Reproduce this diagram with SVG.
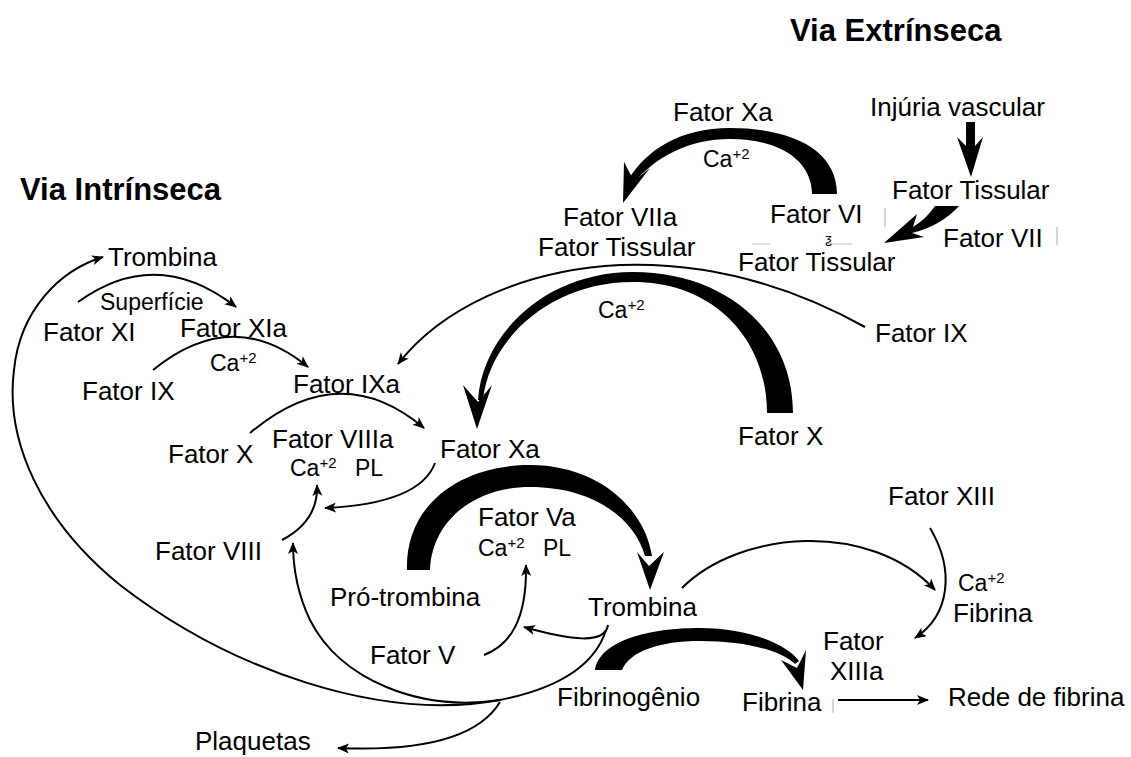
<svg xmlns="http://www.w3.org/2000/svg" width="1131" height="757" viewBox="0 0 1131 757">
<defs>
<style>
text{font-family:"Liberation Sans",Arial,sans-serif;fill:#000}
.l{font-size:26px}
.s{font-size:23px}
.p{font-size:15px}
.t{font-size:31px;font-weight:bold}
.ln{fill:none;stroke:#000;stroke-width:2}
.ar{marker-end:url(#ah)}
.th{fill:#000;stroke:none}
.gr{stroke:#bbb;stroke-width:1.2;fill:none}
</style>
<marker id="ah" markerUnits="userSpaceOnUse" markerWidth="14" markerHeight="12" refX="11" refY="5" orient="auto">
<path d="M0,0 L12,5 L0,10 L3,5 Z" fill="#000"/>
</marker>
</defs>
<rect width="1131" height="757" fill="#fff"/>

<g id="titles">
<text class="t" x="790" y="41">Via Extrínseca</text>
<text class="t" x="20" y="200">Via Intrínseca</text>
</g>

<g id="connectors">
<!-- extrinsic crescent Fator VI -> Fator VIIa -->
<path class="th" d="M837,194 C837,150 792,128 730,128 C680,128 646,150 628,180 L634,183 C656,156 690,139 730,139 C782,139 812,162 812,194 Z"/>
<path class="th" d="M623,203 L624,162 L634,181 L650,168 Z"/>
<!-- injuria -> fator tissular -->
<path class="th" d="M966,122 L975,122 L975,146 L983,137 L971,177 L957,137 L966,146 Z"/>
<!-- fator tissular -> fator tissular -->
<path class="th" d="M959,206 L935,206 C928,216 921,222 913,227 L917,214 L884,243 L924,237 L912,233 C932,228 947,219 959,206 Z"/>
<!-- Fator IX right -> Fator IXa -->
<path class="ln ar" d="M865,327 C780,280 700,262 620,265 C520,270 440,310 398,364"/>
<!-- big crescent Fator X -> Fator Xa -->
<path class="th" d="M793,413 C793,330 725,272 633,272 C545,272 482,335 478,400 L483,400 C489,340 550,282 633,282 C715,282 767,340 767,413 Z"/>
<path class="th" d="M477,429 L463,385 L478,402 L492,385 Z"/>
<!-- Superficie -->
<path class="ln ar" d="M78,302 Q157,245 236,307"/>
<!-- Ca left: Fator IX -> IXa -->
<path class="ln ar" d="M153,370 Q233,305 308,367"/>
<!-- Fator X -> Fator Xa -->
<path class="ln ar" d="M250,433 Q340,357 424,428"/>
<!-- Fator Xa -> VIIIa complex -->
<path class="ln ar" d="M435,463 C425,490 390,505 325,508"/>
<!-- Fator VIII -> VIIIa -->
<path class="ln ar" d="M282,540 C305,528 318,510 317,485"/>
<!-- crescent Pro-trombina -> Trombina -->
<path class="th" d="M407,570 C405,505 460,465 530,465 C600,465 645,510 652,556 L645,556 C635,520 595,487 530,487 C475,487 432,520 430,570 Z"/>
<path class="th" d="M650,590 L637,552 L649,566 L664,552 Z"/>
<!-- Fator V -> Va -->
<path class="ln ar" d="M484,655 C510,645 527,620 526,565"/>
<!-- Trombina -> Fator V -->
<path class="ln ar" d="M608,625 C605,645 570,640 524,627"/>
<!-- Trombina -> XIIIa -->
<path class="ln ar" d="M682,588 C740,530 870,520 935,590"/>
<!-- Fator XIII -> XIIIa -->
<path class="ln ar" d="M930,528 C955,570 950,615 915,638"/>
<!-- crescent Fibrinogenio -> Fibrina -->
<path class="th" d="M595,670 C600,640 650,628 700,628 C750,628 788,645 799,661 L795,664 C780,650 745,641 700,641 C660,641 630,651 622,670 Z"/>
<path class="th" d="M803,690 L781,660 L797,668 L806,650 Z"/>
<!-- Fibrina -> Rede -->
<path class="ln ar" d="M838,700 L928,700"/>
<!-- trunk from Trombina -->
<path class="ln" d="M606,630 C595,665 560,688 500,700"/>
<!-- inner arc to Fator VIII -->
<path class="ln ar" d="M500,700 C420,712 340,680 310,620 C298,595 293,570 293,543"/>
<!-- big loop to Trombina top-left -->
<path class="ln ar" d="M500,700 C380,722 230,670 120,585 C40,520 5,440 14,370 C20,310 60,270 103,257"/>
<!-- Plaquetas -->
<path class="ln ar" d="M500,702 C480,735 430,752 338,748"/>
<!-- faint scan marks -->
<path class="gr" d="M885,208 V227 M1057,227 V245 M833,699 V713 M752,244 H770 M827,244 H852"/>
</g>

<g id="n-fxa-top"><text class="l" x="673" y="121">Fator Xa</text></g>
<g id="n-injuria"><text class="l" x="870" y="116">Injúria vascular</text></g>
<g id="n-ca-top"><text class="s" x="703" y="167">Ca<tspan class="p" dy="-8">+2</tspan></text></g>
<g id="n-fviia"><text class="l" x="563" y="226">Fator VIIa</text><text class="l" x="538" y="256">Fator Tissular</text></g>
<g id="n-fvi"><text class="l" x="770" y="223">Fator VI</text><text x="825" y="243" style="font-size:13px">ƺ</text><text class="l" x="738" y="271">Fator Tissular</text></g>
<g id="n-ft-top"><text class="l" x="892" y="199">Fator Tissular</text></g>
<g id="n-fvii"><text class="l" x="943" y="247">Fator VII</text></g>
<g id="n-fix-right"><text class="l" x="875" y="342">Fator IX</text></g>
<g id="n-ca-big"><text class="s" x="598" y="318">Ca<tspan class="p" dy="-8">+2</tspan></text></g>
<g id="n-trombina-tl"><text class="l" x="108" y="266">Trombina</text></g>
<g id="n-superficie"><text class="s" x="100" y="310">Superfície</text></g>
<g id="n-fxi"><text class="l" x="43" y="341">Fator XI</text></g>
<g id="n-fxia"><text class="l" x="180" y="337">Fator XIa</text></g>
<g id="n-ca-left"><text class="s" x="210" y="371">Ca<tspan class="p" dy="-8">+2</tspan></text></g>
<g id="n-fix-left"><text class="l" x="82" y="400">Fator IX</text></g>
<g id="n-fixa"><text class="l" x="293" y="393">Fator IXa</text></g>
<g id="n-fx-left"><text class="l" x="168" y="463">Fator X</text></g>
<g id="n-fviiia"><text class="l" x="272" y="448">Fator VIIIa</text><text class="s" x="290" y="476">Ca<tspan class="p" dy="-8">+2</tspan><tspan x="355" y="476">PL</tspan></text></g>
<g id="n-fxa-mid"><text class="l" x="440" y="458">Fator Xa</text></g>
<g id="n-fx-right"><text class="l" x="738" y="445">Fator X</text></g>
<g id="n-fviii"><text class="l" x="155" y="560">Fator VIII</text></g>
<g id="n-fva"><text class="l" x="478" y="526">Fator Va</text><text class="s" x="478" y="556">Ca<tspan class="p" dy="-8">+2</tspan><tspan x="543" y="556">PL</tspan></text></g>
<g id="n-protrombina"><text class="l" x="330" y="606">Pró-trombina</text></g>
<g id="n-trombina"><text class="l" x="588" y="616">Trombina</text></g>
<g id="n-fv"><text class="l" x="370" y="664">Fator V</text></g>
<g id="n-fxiii"><text class="l" x="888" y="505">Fator XIII</text></g>
<g id="n-ca-right"><text class="s" x="958" y="591">Ca<tspan class="p" dy="-8">+2</tspan></text><text class="l" x="953" y="622">Fibrina</text></g>
<g id="n-fxiiia"><text class="l" x="823" y="650">Fator</text><text class="l" x="830" y="680">XIIIa</text></g>
<g id="n-fibrinogenio"><text class="l" x="557" y="706">Fibrinogênio</text></g>
<g id="n-fibrina"><text class="l" x="742" y="711">Fibrina</text></g>
<g id="n-rede"><text class="l" x="948" y="706">Rede de fibrina</text></g>
<g id="n-plaquetas"><text class="l" x="195" y="750">Plaquetas</text></g>
</svg>
